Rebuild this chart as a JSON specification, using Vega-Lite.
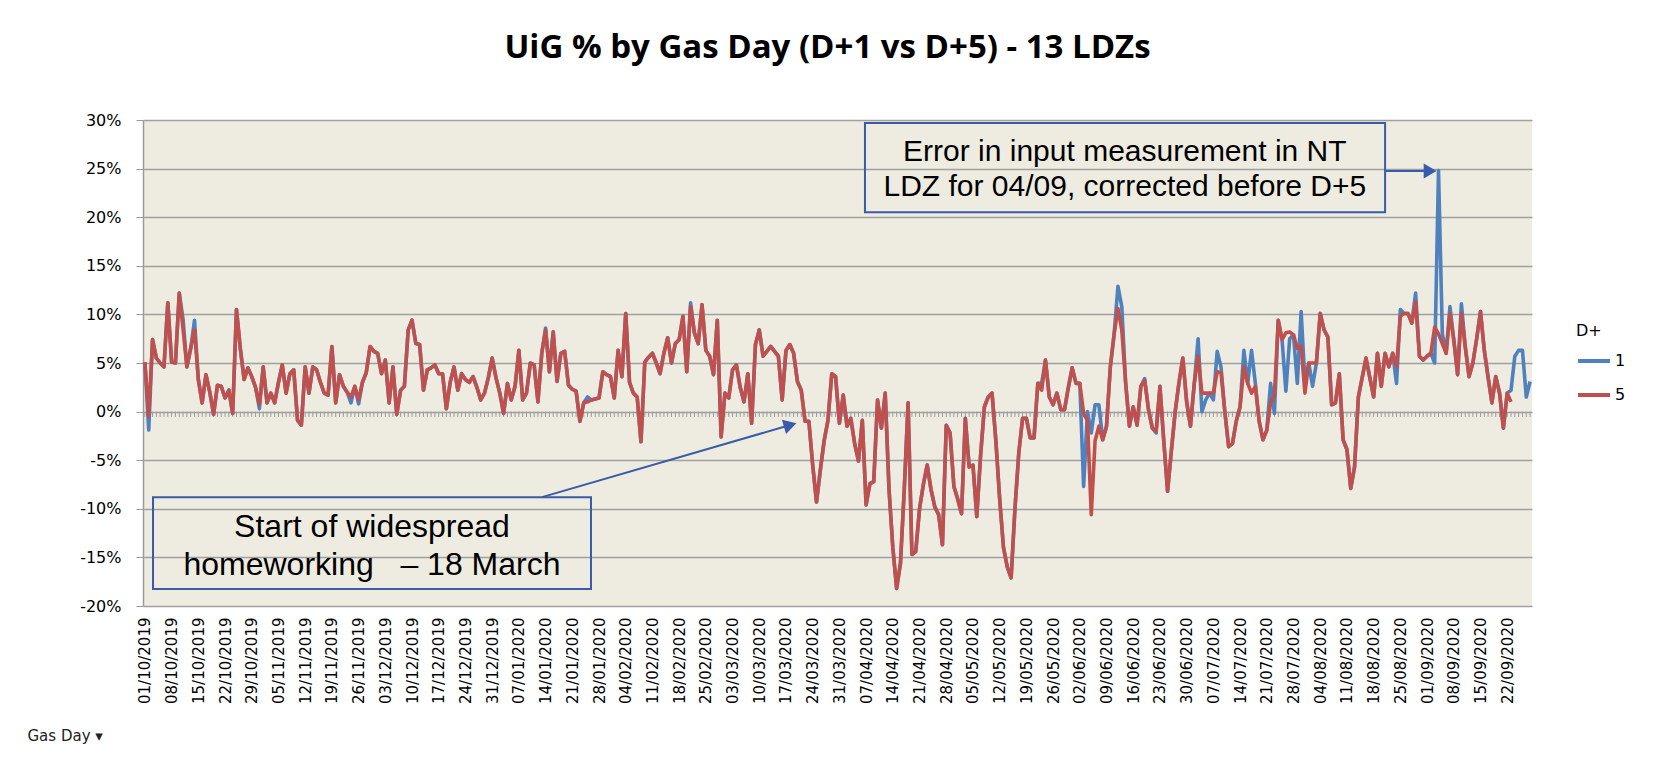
{
"$schema":"https://vega.github.io/schema/vega-lite/v6.json",
"width":1389,"height":486,
"autosize":{"type":"none"},
"padding":{"left":143,"top":120,"right":123,"bottom":154},
"background":"#ffffff",
"config":{"view":{"stroke":null,"fill":"#EEECE1"},"axis":{"labelOverlap":false}},
"title":{"text":"UiG % by Gas Day (D+1 vs D+5) - 13 LDZs","font":"Open Sans","fontSize":33,"fontWeight":"bold","color":"#000000","anchor":"middle","frame":"group","offset":47,"dx":-10},
"data":{"values":[
{"d":"2019-10-01","a":5.1,"b":5.1},{"d":"2019-10-02","a":-1.9,"b":-0.5},{"d":"2019-10-03","a":7.4,"b":7.4},{"d":"2019-10-04","a":5.5,"b":5.5},{"d":"2019-10-05","a":5.0,"b":5.0},{"d":"2019-10-06","a":4.6,"b":4.6},{"d":"2019-10-07","a":11.2,"b":11.2},{"d":"2019-10-08","a":5.1,"b":5.1},{"d":"2019-10-09","a":5.0,"b":5.0},{"d":"2019-10-10","a":12.2,"b":12.2},
{"d":"2019-10-11","a":9.5,"b":8.5},{"d":"2019-10-12","a":4.6,"b":4.6},{"d":"2019-10-13","a":6.5,"b":6.5},{"d":"2019-10-14","a":9.4,"b":8.4},{"d":"2019-10-15","a":3.3,"b":3.3},{"d":"2019-10-16","a":0.9,"b":0.9},{"d":"2019-10-17","a":3.8,"b":3.8},{"d":"2019-10-18","a":2.0,"b":2.0},{"d":"2019-10-19","a":-0.3,"b":-0.3},{"d":"2019-10-20","a":2.7,"b":2.7},
{"d":"2019-10-21","a":2.6,"b":2.6},{"d":"2019-10-22","a":1.4,"b":1.4},{"d":"2019-10-23","a":2.2,"b":2.2},{"d":"2019-10-24","a":-0.2,"b":-0.2},{"d":"2019-10-25","a":10.5,"b":10.5},{"d":"2019-10-26","a":6.5,"b":6.5},{"d":"2019-10-27","a":3.3,"b":3.3},{"d":"2019-10-28","a":4.5,"b":4.5},{"d":"2019-10-29","a":3.6,"b":3.6},{"d":"2019-10-30","a":2.5,"b":2.5},{"d":"2019-10-31","a":0.3,"b":0.7},
{"d":"2019-11-01","a":4.6,"b":4.6},{"d":"2019-11-02","a":0.9,"b":0.9},{"d":"2019-11-03","a":1.9,"b":1.9},{"d":"2019-11-04","a":0.9,"b":0.9},{"d":"2019-11-05","a":3.0,"b":3.0},{"d":"2019-11-06","a":4.8,"b":4.8},{"d":"2019-11-07","a":1.9,"b":1.9},{"d":"2019-11-08","a":3.9,"b":3.9},{"d":"2019-11-09","a":4.3,"b":4.3},{"d":"2019-11-10","a":-0.9,"b":-0.9},
{"d":"2019-11-11","a":-1.4,"b":-1.4},{"d":"2019-11-12","a":4.6,"b":4.6},{"d":"2019-11-13","a":1.9,"b":1.9},{"d":"2019-11-14","a":4.6,"b":4.6},{"d":"2019-11-15","a":4.3,"b":4.3},{"d":"2019-11-16","a":3.0,"b":3.0},{"d":"2019-11-17","a":1.9,"b":1.9},{"d":"2019-11-18","a":1.7,"b":1.7},{"d":"2019-11-19","a":6.7,"b":6.7},{"d":"2019-11-20","a":0.9,"b":0.9},
{"d":"2019-11-21","a":3.8,"b":3.8},{"d":"2019-11-22","a":2.6,"b":2.6},{"d":"2019-11-23","a":2.0,"b":2.0},{"d":"2019-11-24","a":0.9,"b":1.5},{"d":"2019-11-25","a":2.6,"b":2.6},{"d":"2019-11-26","a":0.8,"b":1.2},{"d":"2019-11-27","a":3.0,"b":3.0},{"d":"2019-11-28","a":4.0,"b":4.0},{"d":"2019-11-29","a":6.7,"b":6.7},{"d":"2019-11-30","a":6.2,"b":6.2},
{"d":"2019-12-01","a":6.0,"b":6.0},{"d":"2019-12-02","a":3.9,"b":3.9},{"d":"2019-12-03","a":5.3,"b":5.3},{"d":"2019-12-04","a":0.9,"b":0.9},{"d":"2019-12-05","a":4.6,"b":4.6},{"d":"2019-12-06","a":-0.3,"b":-0.3},{"d":"2019-12-07","a":2.2,"b":2.2},{"d":"2019-12-08","a":2.6,"b":2.6},{"d":"2019-12-09","a":8.4,"b":8.4},{"d":"2019-12-10","a":9.4,"b":9.4},
{"d":"2019-12-11","a":7.0,"b":7.0},{"d":"2019-12-12","a":6.9,"b":6.9},{"d":"2019-12-13","a":2.2,"b":2.2},{"d":"2019-12-14","a":4.3,"b":4.3},{"d":"2019-12-15","a":4.5,"b":4.5},{"d":"2019-12-16","a":4.8,"b":4.8},{"d":"2019-12-17","a":3.9,"b":3.9},{"d":"2019-12-18","a":3.9,"b":3.9},{"d":"2019-12-19","a":0.3,"b":0.3},{"d":"2019-12-20","a":3.0,"b":3.0},
{"d":"2019-12-21","a":4.6,"b":4.6},{"d":"2019-12-22","a":2.2,"b":2.2},{"d":"2019-12-23","a":3.9,"b":3.9},{"d":"2019-12-24","a":3.3,"b":3.3},{"d":"2019-12-25","a":3.0,"b":3.0},{"d":"2019-12-26","a":3.6,"b":3.6},{"d":"2019-12-27","a":2.5,"b":2.5},{"d":"2019-12-28","a":1.2,"b":1.2},{"d":"2019-12-29","a":1.9,"b":1.9},{"d":"2019-12-30","a":3.5,"b":3.5},{"d":"2019-12-31","a":5.5,"b":5.5},
{"d":"2020-01-01","a":3.5,"b":3.5},{"d":"2020-01-02","a":1.9,"b":1.9},{"d":"2020-01-03","a":-0.2,"b":-0.2},{"d":"2020-01-04","a":2.9,"b":2.9},{"d":"2020-01-05","a":1.2,"b":1.2},{"d":"2020-01-06","a":2.6,"b":2.6},{"d":"2020-01-07","a":6.3,"b":6.3},{"d":"2020-01-08","a":1.2,"b":1.2},{"d":"2020-01-09","a":1.9,"b":1.9},{"d":"2020-01-10","a":5.0,"b":5.0},
{"d":"2020-01-11","a":4.8,"b":4.8},{"d":"2020-01-12","a":1.0,"b":1.0},{"d":"2020-01-13","a":6.0,"b":6.0},{"d":"2020-01-14","a":8.6,"b":8.4},{"d":"2020-01-15","a":4.1,"b":4.1},{"d":"2020-01-16","a":8.2,"b":8.2},{"d":"2020-01-17","a":3.1,"b":3.1},{"d":"2020-01-18","a":6.0,"b":6.0},{"d":"2020-01-19","a":6.2,"b":6.2},{"d":"2020-01-20","a":2.7,"b":2.7},
{"d":"2020-01-21","a":2.3,"b":2.3},{"d":"2020-01-22","a":2.1,"b":2.1},{"d":"2020-01-23","a":-1.0,"b":-1.0},{"d":"2020-01-24","a":0.9,"b":0.9},{"d":"2020-01-25","a":1.5,"b":1.0},{"d":"2020-01-26","a":1.2,"b":1.2},{"d":"2020-01-27","a":1.3,"b":1.3},{"d":"2020-01-28","a":1.4,"b":1.4},{"d":"2020-01-29","a":4.1,"b":4.1},{"d":"2020-01-30","a":3.8,"b":3.8},{"d":"2020-01-31","a":3.6,"b":3.6},
{"d":"2020-02-01","a":1.4,"b":1.4},{"d":"2020-02-02","a":6.3,"b":6.3},{"d":"2020-02-03","a":3.6,"b":3.6},{"d":"2020-02-04","a":10.1,"b":10.1},{"d":"2020-02-05","a":3.0,"b":3.0},{"d":"2020-02-06","a":1.9,"b":1.9},{"d":"2020-02-07","a":1.5,"b":1.5},{"d":"2020-02-08","a":-3.1,"b":-3.1},{"d":"2020-02-09","a":5.1,"b":5.1},{"d":"2020-02-10","a":5.6,"b":5.6},
{"d":"2020-02-11","a":6.0,"b":6.0},{"d":"2020-02-12","a":5.0,"b":5.0},{"d":"2020-02-13","a":3.9,"b":3.9},{"d":"2020-02-14","a":6.0,"b":6.0},{"d":"2020-02-15","a":7.6,"b":7.6},{"d":"2020-02-16","a":5.0,"b":5.0},{"d":"2020-02-17","a":7.0,"b":7.0},{"d":"2020-02-18","a":7.4,"b":7.4},{"d":"2020-02-19","a":9.8,"b":9.8},{"d":"2020-02-20","a":4.1,"b":4.1},
{"d":"2020-02-21","a":11.2,"b":10.8},{"d":"2020-02-22","a":8.1,"b":8.1},{"d":"2020-02-23","a":7.0,"b":7.0},{"d":"2020-02-24","a":11.0,"b":11.0},{"d":"2020-02-25","a":6.3,"b":6.3},{"d":"2020-02-26","a":5.7,"b":5.7},{"d":"2020-02-27","a":3.8,"b":3.8},{"d":"2020-02-28","a":9.4,"b":9.4},{"d":"2020-02-29","a":-2.6,"b":-2.6},
{"d":"2020-03-01","a":1.9,"b":1.9},{"d":"2020-03-02","a":1.4,"b":1.4},{"d":"2020-03-03","a":4.3,"b":4.3},{"d":"2020-03-04","a":4.8,"b":4.8},{"d":"2020-03-05","a":2.5,"b":2.5},{"d":"2020-03-06","a":1.0,"b":1.0},{"d":"2020-03-07","a":3.9,"b":3.9},{"d":"2020-03-08","a":-1.2,"b":-1.2},{"d":"2020-03-09","a":6.9,"b":6.9},{"d":"2020-03-10","a":8.4,"b":8.4},
{"d":"2020-03-11","a":5.7,"b":5.7},{"d":"2020-03-12","a":6.2,"b":6.2},{"d":"2020-03-13","a":6.7,"b":6.7},{"d":"2020-03-14","a":6.2,"b":6.2},{"d":"2020-03-15","a":5.7,"b":5.7},{"d":"2020-03-16","a":1.2,"b":1.2},{"d":"2020-03-17","a":6.3,"b":6.3},{"d":"2020-03-18","a":6.9,"b":6.9},{"d":"2020-03-19","a":6.0,"b":6.0},{"d":"2020-03-20","a":3.1,"b":3.1},
{"d":"2020-03-21","a":2.2,"b":2.2},{"d":"2020-03-22","a":-1.0,"b":-1.0},{"d":"2020-03-23","a":-1.0,"b":-1.0},{"d":"2020-03-24","a":-5.5,"b":-5.5},{"d":"2020-03-25","a":-9.3,"b":-9.3},{"d":"2020-03-26","a":-6.0,"b":-6.0},{"d":"2020-03-27","a":-3.0,"b":-3.0},{"d":"2020-03-28","a":-0.9,"b":-0.9},{"d":"2020-03-29","a":3.9,"b":3.9},{"d":"2020-03-30","a":3.6,"b":3.6},{"d":"2020-03-31","a":-1.2,"b":-1.2},
{"d":"2020-04-01","a":1.7,"b":1.7},{"d":"2020-04-02","a":-1.5,"b":-1.5},{"d":"2020-04-03","a":-0.7,"b":-0.7},{"d":"2020-04-04","a":-3.3,"b":-3.3},{"d":"2020-04-05","a":-5.1,"b":-5.1},{"d":"2020-04-06","a":-0.9,"b":-0.9},{"d":"2020-04-07","a":-9.6,"b":-9.6},{"d":"2020-04-08","a":-7.4,"b":-7.4},{"d":"2020-04-09","a":-7.2,"b":-7.2},{"d":"2020-04-10","a":1.2,"b":1.2},
{"d":"2020-04-11","a":-1.7,"b":-1.7},{"d":"2020-04-12","a":1.9,"b":1.9},{"d":"2020-04-13","a":-8.0,"b":-8.0},{"d":"2020-04-14","a":-14.0,"b":-14.0},{"d":"2020-04-15","a":-18.2,"b":-18.2},{"d":"2020-04-16","a":-15.6,"b":-15.6},{"d":"2020-04-17","a":-8.0,"b":-8.0},{"d":"2020-04-18","a":0.9,"b":0.9},{"d":"2020-04-19","a":-14.7,"b":-14.7},{"d":"2020-04-20","a":-14.4,"b":-14.4},
{"d":"2020-04-21","a":-10.0,"b":-10.0},{"d":"2020-04-22","a":-7.5,"b":-7.5},{"d":"2020-04-23","a":-5.5,"b":-5.5},{"d":"2020-04-24","a":-8.0,"b":-8.0},{"d":"2020-04-25","a":-9.8,"b":-9.8},{"d":"2020-04-26","a":-10.6,"b":-10.6},{"d":"2020-04-27","a":-13.7,"b":-13.7},{"d":"2020-04-28","a":-1.4,"b":-1.4},{"d":"2020-04-29","a":-2.2,"b":-2.2},{"d":"2020-04-30","a":-7.7,"b":-7.7},
{"d":"2020-05-01","a":-9.0,"b":-9.0},{"d":"2020-05-02","a":-10.5,"b":-10.5},{"d":"2020-05-03","a":-0.7,"b":-0.7},{"d":"2020-05-04","a":-5.7,"b":-5.7},{"d":"2020-05-05","a":-5.5,"b":-5.5},{"d":"2020-05-06","a":-10.8,"b":-10.8},{"d":"2020-05-07","a":-4.5,"b":-4.5},{"d":"2020-05-08","a":0.5,"b":0.5},{"d":"2020-05-09","a":1.5,"b":1.5},{"d":"2020-05-10","a":1.9,"b":1.9},
{"d":"2020-05-11","a":-3.0,"b":-3.0},{"d":"2020-05-12","a":-9.0,"b":-9.0},{"d":"2020-05-13","a":-14.0,"b":-14.0},{"d":"2020-05-14","a":-16.0,"b":-16.0},{"d":"2020-05-15","a":-17.1,"b":-17.1},{"d":"2020-05-16","a":-10.0,"b":-10.0},{"d":"2020-05-17","a":-4.3,"b":-4.3},{"d":"2020-05-18","a":-0.7,"b":-0.7},{"d":"2020-05-19","a":-0.7,"b":-0.7},{"d":"2020-05-20","a":-2.7,"b":-2.7},
{"d":"2020-05-21","a":-2.7,"b":-2.7},{"d":"2020-05-22","a":2.9,"b":2.9},{"d":"2020-05-23","a":2.9,"b":2.2},{"d":"2020-05-24","a":5.3,"b":5.3},{"d":"2020-05-25","a":1.5,"b":1.5},{"d":"2020-05-26","a":0.7,"b":0.7},{"d":"2020-05-27","a":1.9,"b":1.9},{"d":"2020-05-28","a":0.2,"b":0.2},{"d":"2020-05-29","a":0.2,"b":0.2},{"d":"2020-05-30","a":2.5,"b":2.5},{"d":"2020-05-31","a":4.5,"b":4.5},
{"d":"2020-06-01","a":2.9,"b":2.9},{"d":"2020-06-02","a":2.9,"b":2.9},{"d":"2020-06-03","a":-7.7,"b":-0.2},{"d":"2020-06-04","a":0.0,"b":-0.9},{"d":"2020-06-05","a":-2.2,"b":-10.6},{"d":"2020-06-06","a":0.7,"b":-3.0},{"d":"2020-06-07","a":0.7,"b":-1.5},{"d":"2020-06-08","a":-2.9,"b":-2.9},{"d":"2020-06-09","a":-1.5,"b":-1.5},{"d":"2020-06-10","a":4.6,"b":4.6},
{"d":"2020-06-11","a":8.0,"b":8.0},{"d":"2020-06-12","a":12.9,"b":10.6},{"d":"2020-06-13","a":10.8,"b":8.4},{"d":"2020-06-14","a":3.0,"b":3.0},{"d":"2020-06-15","a":-1.5,"b":-1.5},{"d":"2020-06-16","a":0.5,"b":0.5},{"d":"2020-06-17","a":-1.4,"b":-1.4},{"d":"2020-06-18","a":2.6,"b":2.6},{"d":"2020-06-19","a":3.4,"b":3.2},{"d":"2020-06-20","a":0.2,"b":0.2},
{"d":"2020-06-21","a":-1.7,"b":-1.7},{"d":"2020-06-22","a":-2.2,"b":-2.0},{"d":"2020-06-23","a":2.6,"b":2.6},{"d":"2020-06-24","a":-3.0,"b":-3.0},{"d":"2020-06-25","a":-8.2,"b":-8.2},{"d":"2020-06-26","a":-4.0,"b":-4.0},{"d":"2020-06-27","a":0.0,"b":0.0},{"d":"2020-06-28","a":3.0,"b":3.0},{"d":"2020-06-29","a":5.5,"b":5.5},{"d":"2020-06-30","a":1.0,"b":1.0},
{"d":"2020-07-01","a":-1.5,"b":-1.5},{"d":"2020-07-02","a":2.9,"b":2.9},{"d":"2020-07-03","a":7.5,"b":5.7},{"d":"2020-07-04","a":0.0,"b":1.9},{"d":"2020-07-05","a":1.2,"b":1.9},{"d":"2020-07-06","a":1.9,"b":1.9},{"d":"2020-07-07","a":1.2,"b":1.9},{"d":"2020-07-08","a":6.2,"b":4.1},{"d":"2020-07-09","a":4.6,"b":4.0},{"d":"2020-07-10","a":0.0,"b":0.0},
{"d":"2020-07-11","a":-3.6,"b":-3.6},{"d":"2020-07-12","a":-3.3,"b":-3.3},{"d":"2020-07-13","a":-1.0,"b":-1.0},{"d":"2020-07-14","a":0.5,"b":0.5},{"d":"2020-07-15","a":6.3,"b":4.6},{"d":"2020-07-16","a":2.9,"b":2.9},{"d":"2020-07-17","a":6.3,"b":1.9},{"d":"2020-07-18","a":2.9,"b":2.6},{"d":"2020-07-19","a":-1.0,"b":-1.0},{"d":"2020-07-20","a":-2.9,"b":-2.9},
{"d":"2020-07-21","a":-1.9,"b":-1.9},{"d":"2020-07-22","a":2.9,"b":0.9},{"d":"2020-07-23","a":-0.2,"b":1.7},{"d":"2020-07-24","a":9.4,"b":9.4},{"d":"2020-07-25","a":7.4,"b":7.4},{"d":"2020-07-26","a":2.1,"b":8.1},{"d":"2020-07-27","a":7.5,"b":8.2},{"d":"2020-07-28","a":7.9,"b":7.9},{"d":"2020-07-29","a":2.9,"b":6.5},{"d":"2020-07-30","a":10.3,"b":6.7},{"d":"2020-07-31","a":3.0,"b":1.9},
{"d":"2020-08-01","a":5.0,"b":5.0},{"d":"2020-08-02","a":2.6,"b":5.0},{"d":"2020-08-03","a":5.0,"b":5.0},{"d":"2020-08-04","a":10.1,"b":10.1},{"d":"2020-08-05","a":8.4,"b":8.4},{"d":"2020-08-06","a":7.7,"b":7.7},{"d":"2020-08-07","a":0.7,"b":0.7},{"d":"2020-08-08","a":0.9,"b":0.9},{"d":"2020-08-09","a":3.9,"b":3.9},{"d":"2020-08-10","a":-2.9,"b":-2.9},
{"d":"2020-08-11","a":-3.9,"b":-3.9},{"d":"2020-08-12","a":-7.9,"b":-7.9},{"d":"2020-08-13","a":-5.7,"b":-5.7},{"d":"2020-08-14","a":1.5,"b":1.5},{"d":"2020-08-15","a":3.5,"b":3.5},{"d":"2020-08-16","a":5.5,"b":5.5},{"d":"2020-08-17","a":3.5,"b":3.5},{"d":"2020-08-18","a":1.5,"b":1.5},{"d":"2020-08-19","a":6.0,"b":6.0},{"d":"2020-08-20","a":2.6,"b":2.6},
{"d":"2020-08-21","a":6.0,"b":6.0},{"d":"2020-08-22","a":4.6,"b":4.6},{"d":"2020-08-23","a":6.0,"b":6.0},{"d":"2020-08-24","a":2.9,"b":4.6},{"d":"2020-08-25","a":10.5,"b":9.8},{"d":"2020-08-26","a":10.1,"b":10.1},{"d":"2020-08-27","a":10.1,"b":10.1},{"d":"2020-08-28","a":9.1,"b":9.1},{"d":"2020-08-29","a":12.2,"b":11.3},{"d":"2020-08-30","a":5.7,"b":5.7},{"d":"2020-08-31","a":5.3,"b":5.3},
{"d":"2020-09-01","a":5.7,"b":5.7},{"d":"2020-09-02","a":6.0,"b":6.0},{"d":"2020-09-03","a":5.0,"b":8.7},{"d":"2020-09-04","a":24.8,"b":8.0},{"d":"2020-09-05","a":8.0,"b":7.0},{"d":"2020-09-06","a":6.0,"b":6.0},{"d":"2020-09-07","a":10.8,"b":10.1},{"d":"2020-09-08","a":7.4,"b":7.4},{"d":"2020-09-09","a":3.8,"b":3.8},{"d":"2020-09-10","a":11.1,"b":10.1},
{"d":"2020-09-11","a":6.7,"b":6.7},{"d":"2020-09-12","a":3.6,"b":3.6},{"d":"2020-09-13","a":5.0,"b":5.0},{"d":"2020-09-14","a":7.5,"b":7.5},{"d":"2020-09-15","a":10.3,"b":10.3},{"d":"2020-09-16","a":6.3,"b":6.3},{"d":"2020-09-17","a":3.5,"b":3.5},{"d":"2020-09-18","a":0.9,"b":0.9},{"d":"2020-09-19","a":3.6,"b":3.6},{"d":"2020-09-20","a":1.9,"b":1.9},
{"d":"2020-09-21","a":-1.7,"b":-1.7},{"d":"2020-09-22","a":1.9,"b":1.9},{"d":"2020-09-23","a":2.2,"b":1.0},{"d":"2020-09-24","a":5.7},{"d":"2020-09-25","a":6.3},{"d":"2020-09-26","a":6.3},{"d":"2020-09-27","a":1.5},{"d":"2020-09-28","a":3.1}
]},
"layer":[
{"mark":{"type":"rule","color":"#9A9A9A","strokeWidth":1},
 "encoding":{
  "x":{"field":"d","type":"temporal",
   "scale":{"type":"utc","domain":[{"year":2019,"month":9,"date":30,"hours":12,"utc":true},{"year":2020,"month":9,"date":28,"hours":12,"utc":true}]},
   "axis":{"tickCount":200,"values":[
{"year":2019,"month":10,"date":1,"utc":true},{"year":2019,"month":10,"date":8,"utc":true},{"year":2019,"month":10,"date":15,"utc":true},{"year":2019,"month":10,"date":22,"utc":true},{"year":2019,"month":10,"date":29,"utc":true},
{"year":2019,"month":11,"date":5,"utc":true},{"year":2019,"month":11,"date":12,"utc":true},{"year":2019,"month":11,"date":19,"utc":true},{"year":2019,"month":11,"date":26,"utc":true},
{"year":2019,"month":12,"date":3,"utc":true},{"year":2019,"month":12,"date":10,"utc":true},{"year":2019,"month":12,"date":17,"utc":true},{"year":2019,"month":12,"date":24,"utc":true},{"year":2019,"month":12,"date":31,"utc":true},
{"year":2020,"month":1,"date":7,"utc":true},{"year":2020,"month":1,"date":14,"utc":true},{"year":2020,"month":1,"date":21,"utc":true},{"year":2020,"month":1,"date":28,"utc":true},
{"year":2020,"month":2,"date":4,"utc":true},{"year":2020,"month":2,"date":11,"utc":true},{"year":2020,"month":2,"date":18,"utc":true},{"year":2020,"month":2,"date":25,"utc":true},
{"year":2020,"month":3,"date":3,"utc":true},{"year":2020,"month":3,"date":10,"utc":true},{"year":2020,"month":3,"date":17,"utc":true},{"year":2020,"month":3,"date":24,"utc":true},{"year":2020,"month":3,"date":31,"utc":true},
{"year":2020,"month":4,"date":7,"utc":true},{"year":2020,"month":4,"date":14,"utc":true},{"year":2020,"month":4,"date":21,"utc":true},{"year":2020,"month":4,"date":28,"utc":true},
{"year":2020,"month":5,"date":5,"utc":true},{"year":2020,"month":5,"date":12,"utc":true},{"year":2020,"month":5,"date":19,"utc":true},{"year":2020,"month":5,"date":26,"utc":true},
{"year":2020,"month":6,"date":2,"utc":true},{"year":2020,"month":6,"date":9,"utc":true},{"year":2020,"month":6,"date":16,"utc":true},{"year":2020,"month":6,"date":23,"utc":true},{"year":2020,"month":6,"date":30,"utc":true},
{"year":2020,"month":7,"date":7,"utc":true},{"year":2020,"month":7,"date":14,"utc":true},{"year":2020,"month":7,"date":21,"utc":true},{"year":2020,"month":7,"date":28,"utc":true},
{"year":2020,"month":8,"date":4,"utc":true},{"year":2020,"month":8,"date":11,"utc":true},{"year":2020,"month":8,"date":18,"utc":true},{"year":2020,"month":8,"date":25,"utc":true},
{"year":2020,"month":9,"date":1,"utc":true},{"year":2020,"month":9,"date":8,"utc":true},{"year":2020,"month":9,"date":15,"utc":true},{"year":2020,"month":9,"date":22,"utc":true}],
    "format":"%d/%m/%Y","labelAngle":270,"labelFont":"DejaVu Sans","labelFontSize":15,"labelColor":"#000000",
    "ticks":false,"domain":false,"grid":false,"labelPadding":11,"labelOverlap":false,"labelBound":false,"labelFlush":false,
    "title":"Gas Day ▾","titleX":-116,"titleY":129,"titleAlign":"left","titleBaseline":"middle","titleAnchor":"start",
    "titleFont":"DejaVu Sans","titleFontSize":15,"titleFontWeight":"normal","titleColor":"#222222"}},
  "y":{"datum":0,"type":"quantitative",
   "scale":{"domain":[-20,30],"nice":false},
   "axis":{"values":[-20,-15,-10,-5,0,5,10,15,20,25,30],"labelExpr":"datum.value + '%'",
    "labelFont":"DejaVu Sans","labelFontSize":16,"labelColor":"#000000","tickSize":7,"tickColor":"#9A9A9A",
    "domainColor":"#9A9A9A","domainWidth":1.5,"grid":true,"gridColor":"#A0A0A0","gridWidth":1.5,"labelPadding":15,"title":null}},
  "y2":{"datum":-0.55}
 }},
{"mark":{"type":"line","strokeWidth":3.6,"strokeJoin":"round"},
 "encoding":{
  "x":{"field":"d","type":"temporal"},
  "y":{"field":"a","type":"quantitative"},
  "color":{"datum":"1","type":"nominal",
   "scale":{"domain":["1","5"],"range":["#4F81BD","#C0504D"]},
   "legend":{"title":"D+","orient":"none","legendX":1433,"legendY":203,"symbolType":"stroke","symbolSize":1024,"symbolStrokeWidth":4,
     "labelFont":"DejaVu Sans","labelFontSize":16,"labelColor":"#000000","titleFont":"DejaVu Sans","titleFontSize":16,"titleFontWeight":"normal","titleColor":"#000000",
     "rowPadding":8,"titlePadding":4,"labelOffset":3}}
 }},
{"mark":{"type":"line","strokeWidth":3.6,"strokeJoin":"round"},
 "encoding":{
  "x":{"field":"d","type":"temporal"},
  "y":{"field":"b","type":"quantitative"},
  "color":{"datum":"5","type":"nominal"}
 }},
{"data":{"values":[
  {"x1":"2019-10-03T03:00:00Z","x2":"2020-01-25T21:36:00Z","y1":-8.8,"y2":-18.25},
  {"x1":"2020-04-06T16:48:00Z","x2":"2020-08-21T00:00:00Z","y1":29.7,"y2":20.5}]},
 "mark":{"type":"rect","filled":false,"stroke":"#3A5BA8","strokeWidth":2},
 "encoding":{"x":{"field":"x1","type":"temporal"},"x2":{"field":"x2"},"y":{"field":"y1","type":"quantitative"},"y2":{"field":"y2"}}},
{"data":{"values":[
  {"x1":"2020-01-13T01:24:00Z","y1":-8.8,"x2":"2020-03-18T02:24:00Z","y2":-1.38},
  {"x1":"2020-08-21T00:00:00Z","y1":24.75,"x2":"2020-09-01T19:12:00Z","y2":24.75}]},
 "mark":{"type":"rule","color":"#3A5BA8","strokeWidth":2},
 "encoding":{"x":{"field":"x1","type":"temporal"},"x2":{"field":"x2"},"y":{"field":"y1","type":"quantitative"},"y2":{"field":"y2"}}},
{"data":{"values":[{"x":"2020-03-18T02:24:00Z","y":-1.38}]},
 "mark":{"type":"point","shape":"triangle-right","filled":true,"color":"#3A5BA8","size":220,"angle":-16,"opacity":1},
 "encoding":{"x":{"field":"x","type":"temporal"},"y":{"field":"y","type":"quantitative"}}},
{"data":{"values":[{"x":"2020-09-01T19:12:00Z","y":24.75}]},
 "mark":{"type":"point","shape":"triangle-right","filled":true,"color":"#3A5BA8","size":220,"angle":0,"opacity":1},
 "encoding":{"x":{"field":"x","type":"temporal"},"y":{"field":"y","type":"quantitative"}}},
{"data":{"values":[
  {"x":"2019-11-29T12:00:00Z","y":-11.9,"t":"Start of widespread"},
  {"x":"2019-11-29T12:00:00Z","y":-15.8,"t":"homeworking\u00a0\u00a0 – 18 March"}]},
 "mark":{"type":"text","font":"Liberation Sans","fontSize":32,"color":"#000000","align":"center","baseline":"middle"},
 "encoding":{"x":{"field":"x","type":"temporal"},"y":{"field":"y","type":"quantitative"},"text":{"field":"t"}}},
{"data":{"values":[
  {"x":"2020-06-13T19:12:00Z","y":26.7,"t":"Error in input measurement in NT"},
  {"x":"2020-06-13T19:12:00Z","y":23.1,"t":"LDZ for 04/09, corrected before D+5"}]},
 "mark":{"type":"text","font":"Liberation Sans","fontSize":30,"color":"#000000","align":"center","baseline":"middle"},
 "encoding":{"x":{"field":"x","type":"temporal"},"y":{"field":"y","type":"quantitative"},"text":{"field":"t"}}}
]
}
